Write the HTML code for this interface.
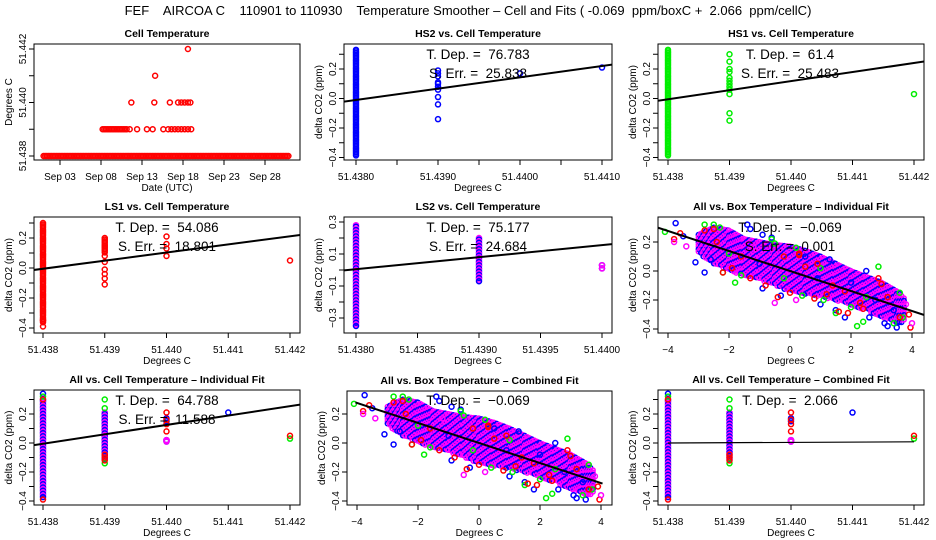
<!DOCTYPE html>
<html><head><meta charset="utf-8">
<style>
html,body{margin:0;padding:0;background:#fff;}
svg{display:block;font-family:"Liberation Sans",Arial,sans-serif;}
svg text{white-space:pre;}
</style></head>
<body>
<svg id="c" width="936" height="540" viewBox="0 0 936 540">
<text x="468" y="15" text-anchor="middle" font-size="13">FEF    AIRCOA C    110901 to 110930    Temperature Smoother – Cell and Fits ( -0.069  ppm/boxC +  2.066  ppm/cellC)</text>
</svg>
<script>
// ---------- data ----------
const tempRowLevels = [51.438, 51.439];
const tempRowStart = [1.0, 8.2];
const tempRowEnd = [30.9, 11.2];
const tempDays = [11.5,12.4,13.6,14.3,15.6,16.2,16.6,17.0,17.4,17.8,18.2,18.6,19.0, 11.7,14.5,16.4,17.4,17.8,18.2,18.6,18.9, 14.6, 18.6];
const tempVals = [51.439,51.439,51.439,51.439,51.439,51.439,51.439,51.439,51.439,51.439,51.439,51.439,51.439, 51.440,51.440,51.440,51.440,51.440,51.440,51.440,51.440, 51.441, 51.442];
const dayTicks = [3,8,13,18,23,28];
const dayLabels = ["Sep 03","Sep 08","Sep 13","Sep 18","Sep 23","Sep 28"];

const hs2StripX=[51.438], hs2StripLo=[-0.39], hs2StripHi=[0.33];
const hs2PtsX=[51.439,51.439,51.439,51.439,51.439,51.439,51.439,51.439,51.439,51.439,51.440,51.441];
const hs2PtsY=[0.19,0.17,0.15,0.11,0.10,0.08,0.06,0.01,-0.04,-0.14,0.17,0.21];
const hs2Fit=[-0.01, 76.783];
const hs1StripX=[51.438], hs1StripLo=[-0.39], hs1StripHi=[0.33];
const hs1PtsX=[51.439,51.439,51.439,51.439,51.439,51.439,51.439,51.439,51.439,51.439,51.439,51.439,51.442];
const hs1PtsY=[0.30,0.25,0.20,0.18,0.14,0.12,0.10,0.08,0.06,0.03,-0.10,-0.15,0.03];
const hs1Fit=[-0.005, 61.4];
const ls1StripX=[51.438,51.439], ls1StripLo=[-0.37,0.10], ls1StripHi=[0.30,0.20];
const ls1PtsX=[51.438,51.438,51.439,51.439,51.439,51.439,51.439,51.439,51.440,51.440,51.440,51.440,51.442];
const ls1PtsY=[-0.39,-0.35,0.08,0.04,-0.01,-0.04,-0.07,-0.11,0.21,0.16,0.13,0.08,0.05];
const ls1Fit=[-0.005, 54.086];
const ls2StripX=[51.438,51.439], ls2StripLo=[-0.35,-0.07], ls2StripHi=[0.28,0.20];
const ls2PtsX=[51.440,51.440];
const ls2PtsY=[0.03,0.01];
const ls2Fit=[0.005, 75.177];
const allStripX=[51.438,51.439], allStripLo=[-0.38,-0.12], allStripHi=[0.30,0.21];
const allBlueX=[51.438,51.440,51.440,51.441], allBlueY=[0.34,0.17,0.15,0.21];
const allGreenX=[51.438,51.439,51.439,51.439,51.442], allGreenY=[0.32,0.30,0.24,-0.14,0.03];
const allRedX=[51.438,51.438,51.439,51.439,51.439,51.440,51.440,51.440,51.440,51.442], allRedY=[0.30,-0.39,-0.08,-0.10,-0.12,0.21,0.16,0.13,0.08,0.05];
const allMagX=[51.440,51.440], allMagY=[0.02,0.01];
const allFit=[-0.005, 64.788];
const combFit=[0.0, 2.066];
const bandX=[-3.0,-2.5,-2.0,-1.5,-1.0,-0.5,0,0.5,1.0,1.5,2.0,2.5,3.0,3.5,3.8];
const bandHi=[0.25,0.30,0.28,0.22,0.20,0.18,0.17,0.14,0.10,0.05,0.00,-0.04,-0.08,-0.14,-0.20];
const bandLo=[0.12,0.05,0.00,-0.03,-0.06,-0.10,-0.14,-0.16,-0.18,-0.20,-0.24,-0.27,-0.32,-0.36,-0.35];
const boxBlueX=[-3.75,-3.5,-3.1,-2.8,-1.4,-1.3,-0.9,-0.6,-0.9,-0.3,0.5,1.3,1.0,1.5,1.8,2.5,2.6,3.1,3.2,3.5,3.4,2.0,-2.6,-1.0,0.9,2.8];
const boxBlueY=[0.33,0.24,0.06,-0.01,0.32,0.29,0.25,0.23,-0.12,-0.17,0.10,0.08,-0.23,-0.27,-0.32,0.00,-0.32,-0.36,-0.38,-0.39,-0.27,-0.08,0.08,0.05,-0.05,-0.2];
const boxGreenX=[-4.1,-2.8,-2.5,-2.3,-1.8,-1.6,-0.6,-0.5,0.4,1.1,1.5,2.2,2.4,2.9,3.6,3.7,3.4,2.0,0.2,-2.2,-2.0,-0.2,1.0,2.5];
const boxGreenY=[0.27,0.32,0.32,0.30,-0.08,-0.03,0.22,0.19,-0.17,-0.20,-0.29,-0.38,-0.35,0.03,-0.15,-0.32,-0.36,-0.25,0.16,-0.01,0.12,-0.05,0.02,-0.18];
const boxRedX=[-3.8,-3.6,-2.8,-2.5,-2.2,-1.9,-1.3,-0.4,0.0,0.3,0.8,1.2,1.6,1.9,2.4,2.9,3.0,3.6,3.9,3.95,0.5,-0.8,1.8,-2.4,-1.6,-0.2,0.3,0.9,1.4,2.3,3.2];
const boxRedY=[0.22,0.26,0.28,0.29,-0.01,0.02,-0.05,-0.18,-0.15,0.11,-0.19,-0.16,-0.28,-0.29,-0.26,-0.05,-0.09,-0.32,-0.30,-0.39,0.03,-0.10,-0.14,0.2,0.1,0.1,0.12,0.05,-0.1,-0.22,-0.18];
const boxMagX=[-3.8,-3.4,-1.2,-0.5,0.2,3.8,4.0];
const boxMagY=[0.20,0.17,0.17,-0.22,-0.20,-0.23,-0.36];
const boxFit=[0.0, -0.069];

// ---------- drawing ----------
const svg=document.getElementById('c');
const NS='http://www.w3.org/2000/svg';
const BLUE='#0000ff',GREEN='#00ee00',RED='#ff0000',MAG='#ff00ff';
function el(tag,attrs,parent){const e=document.createElementNS(NS,tag);for(const k in attrs)e.setAttribute(k,attrs[k]);(parent||svg).appendChild(e);return e;}
function lin(v0,p0,v1,p1){return v=>p0+(v-v0)*(p1-p0)/(v1-v0);}

function panel(o){
  const g=el('g',{});
  
  
  const b=o.box;
  const fr=el('rect',{x:b.l,y:b.t,width:b.r-b.l,height:b.b-b.t,fill:'none',stroke:'#000','stroke-width':1},g);
  
  
  const t=el('text',{x:(b.l+b.r)/2,y:b.t-7,'text-anchor':'middle','font-size':10.5,'font-weight':'bold'},g);
  t.textContent=o.title;
  
  
  o.xticks.forEach((v,i)=>{
    const x=o.xs(v);
    const tk=el('line',{x1:x,x2:x,y1:b.b,y2:b.b+5,stroke:'#000'},g);
    
    
    if(o.xlabels[i]){
      const lt=el('text',{x:x,y:b.b+20,'text-anchor':'middle','font-size':10},g);
      lt.textContent=o.xlabels[i];
      
      
    }
  });
  const xt=el('text',{x:(b.l+b.r)/2,y:b.b+31,'text-anchor':'middle','font-size':10},g);
  xt.textContent=o.xtitle;
  
  
  o.yticks.forEach((v,i)=>{
    const y=o.ys(v);
    const tk=el('line',{x1:b.l-5,x2:b.l,y1:y,y2:y,stroke:'#000'},g);
    
    
    if(o.ylabels[i]){
      const lt=el('text',{x:0,y:0,'text-anchor':'middle','font-size':10,transform:`translate(${b.l-8},${y}) rotate(-90)`},g);
      lt.textContent=o.ylabels[i];
      
      
    }
  });
  const yt=el('text',{x:0,y:0,'text-anchor':'middle','font-size':10,transform:`translate(${b.l-22},${(b.t+b.b)/2}) rotate(-90)`},g);
  yt.textContent=o.ytitle;
  
  
  const cp=el('clipPath',{id:'cp'+o.name},g);
  el('rect',{x:b.l,y:b.t,width:b.r-b.l,height:b.b-b.t},cp);
  const d=el('g',{'clip-path':`url(#cp${o.name})`},g);
  
  
  return {g,d};
}
function pt(d,x,y,col,r){
  const c=el('circle',{cx:x,cy:y,r:r||2.5,fill:'none',stroke:col,'stroke-width':1.5},d);
  
  
  return c;
}
function pts(d,o,X,Y,col){X.forEach((v,i)=>pt(d,o.xs(v),o.ys(Y[i]),col));}
function strip(d,o,X,Lo,Hi,cols){
  X.forEach((v,i)=>{
    const x=o.xs(v);let y0=o.ys(Hi[i]),y1=o.ys(Lo[i]);
    let k=0;
    for(let y=y0;y<=y1+0.01;y+=1.6){pt(d,x,y,cols[k%cols.length]);k++;}
  });
}
function fitLine(d,o,fit,x0ref,w){
  const xa=o.xdom[0],xb=o.xdom[1];
  const f=x=>fit[0]+fit[1]*(x-x0ref);
  const l=el('line',{x1:o.xs(xa),y1:o.ys(f(xa)),x2:o.xs(xb),y2:o.ys(f(xb)),stroke:'#000','stroke-width':w||2},d);
  
  
}
function ann(g,x,y,s){
  const t=el('text',{x:x,y:y,'text-anchor':'middle','font-size':13.5},g);
  t.textContent=s;
  
  
}
function cloud(d,o){
  for(let i=0;i<bandX.length-1;i++){
    const xa=o.xs(bandX[i]),xb=o.xs(bandX[i+1]);
    for(let x=xa;x<xb;x+=2.4){
      const f=(x-xa)/(xb-xa);
      const hi=bandHi[i]+f*(bandHi[i+1]-bandHi[i]);
      const lo=bandLo[i]+f*(bandLo[i+1]-bandLo[i]);
      let k=Math.round(x/2.4);
      for(let y=o.ys(hi);y<=o.ys(lo);y+=2.4){pt(d,x,y,(k%3===0)?BLUE:MAG,2.2);k++;}
    }
  }
  pts(d,o,boxBlueX,boxBlueY,BLUE);
  pts(d,o,boxGreenX,boxGreenY,GREEN);
  pts(d,o,boxRedX,boxRedY,RED);
  pts(d,o,boxMagX,boxMagY,MAG);
}
const tick01=[-0.4,-0.3,-0.2,-0.1,0,0.1,0.2,0.3];
const lab01=["-0.4","","-0.2","","0.0","","0.2",""].map(s=>s.replace('-','\u2212'));
const cellT=[51.438,51.439,51.440,51.441,51.442];
const cellL=["51.438","51.439","51.440","51.441","51.442"];
const DC="Degrees C", DY="delta CO2 (ppm)";

{
  const o={name:'cell-temperature-panel',box:{l:34,r:300,t:44,b:160},title:'Cell Temperature',
    xs:lin(3,60,28,265),ys:lin(51.438,156,51.442,49),xdom:[0,32],
    xticks:dayTicks,xlabels:dayLabels,xtitle:'Date (UTC)',
    yticks:cellT,ylabels:["51.438","","51.440","","51.442"],ytitle:'Degrees C'};
  const {d}=panel(o);
  tempRowLevels.forEach((lv,i)=>{for(let x=o.xs(tempRowStart[i]);x<=o.xs(tempRowEnd[i]);x+=1.6)pt(d,x,o.ys(lv),RED);});
  pts(d,o,tempDays,tempVals,RED);
}
{
  const o={name:'hs2-panel',box:{l:344,r:612,t:44,b:160},title:'HS2 vs. Cell Temperature',
    xs:lin(51.438,356,51.441,602),ys:lin(0,98.5,0.2,69),xdom:[51.4376,51.4413],
    xticks:[51.438,51.4385,51.439,51.4395,51.440,51.4405,51.441],xlabels:["51.4380","","51.4390","","51.4400","","51.4410"],xtitle:DC,
    yticks:tick01,ylabels:lab01,ytitle:DY};
  const {g,d}=panel(o);
  strip(d,o,hs2StripX,hs2StripLo,hs2StripHi,[BLUE]);
  pts(d,o,hs2PtsX,hs2PtsY,BLUE);
  fitLine(d,o,hs2Fit,51.438);
  ann(g,478,59,'T. Dep. =  76.783');ann(g,478,78,'S. Err. =  25.838');
}
{
  const o={name:'hs1-panel',box:{l:658,r:924,t:44,b:160},title:'HS1 vs. Cell Temperature',
    xs:lin(51.438,668,51.442,914),ys:lin(0,98.5,0.2,69),xdom:[51.4378,51.4423],
    xticks:cellT,xlabels:cellL,xtitle:DC,yticks:tick01,ylabels:lab01,ytitle:DY};
  const {g,d}=panel(o);
  strip(d,o,hs1StripX,hs1StripLo,hs1StripHi,[GREEN]);
  pts(d,o,hs1PtsX,hs1PtsY,GREEN);
  fitLine(d,o,hs1Fit,51.438);
  ann(g,790,59,'T. Dep. =  61.4');ann(g,790,78,'S. Err. =  25.483');
}
{
  const o={name:'ls1-panel',box:{l:34,r:300,t:217,b:333},title:'LS1 vs. Cell Temperature',
    xs:lin(51.438,43,51.442,290),ys:lin(0,268,0.2,238),xdom:[51.4378,51.4423],
    xticks:cellT,xlabels:cellL,xtitle:DC,yticks:tick01,ylabels:lab01,ytitle:DY};
  const {g,d}=panel(o);
  strip(d,o,ls1StripX,ls1StripLo,ls1StripHi,[RED]);
  pts(d,o,ls1PtsX,ls1PtsY,RED);
  fitLine(d,o,ls1Fit,51.438);
  ann(g,167,232,'T. Dep. =  54.086');ann(g,167,251,'S. Err. =  18.801');
}
{
  const o={name:'ls2-panel',box:{l:344,r:612,t:217,b:333},title:'LS2 vs. Cell Temperature',
    xs:lin(51.438,356,51.440,602),ys:lin(0,270,0.3,222),xdom:[51.4379,51.4403],
    xticks:[51.438,51.4385,51.439,51.4395,51.440],xlabels:["51.4380","51.4385","51.4390","51.4395","51.4400"],xtitle:DC,
    yticks:[-0.3,-0.2,-0.1,0,0.1,0.2,0.3],ylabels:["\u22120.3","","\u22120.1","","0.1","","0.3"],ytitle:DY};
  const {g,d}=panel(o);
  strip(d,o,ls2StripX,ls2StripLo,ls2StripHi,[MAG,BLUE]);
  pts(d,o,ls2PtsX,ls2PtsY,BLUE);pts(d,o,ls2PtsX,ls2PtsY,MAG);
  fitLine(d,o,ls2Fit,51.438);
  ann(g,478,232,'T. Dep. =  75.177');ann(g,478,251,'S. Err. =  24.684');
}
{
  const o={name:'box-individual-panel',box:{l:658,r:924,t:217,b:333},title:'All vs. Box Temperature \u2013 Individual Fit',
    xs:lin(0,790,4,912),ys:lin(0,271,0.2,242),xdom:[-4.5,4.5],
    xticks:[-4,-2,0,2,4],xlabels:["\u22124","\u22122","0","2","4"],xtitle:DC,
    yticks:[-0.4,-0.2,0,0.2],ylabels:["\u22120.4","\u22120.2","0.0","0.2"],ytitle:DY};
  const {g,d}=panel(o);
  cloud(d,o);
  fitLine(d,o,boxFit,0);
  ann(g,790,232,'T. Dep. =  \u22120.069');ann(g,790,251,'S. Err. =  0.001');
}
{
  const o={name:'cell-individual-panel',box:{l:34,r:300,t:390,b:505},title:'All vs. Cell Temperature \u2013 Individual Fit',
    xs:lin(51.438,43,51.442,290),ys:lin(0,443,0.2,414),xdom:[51.4378,51.4423],
    xticks:cellT,xlabels:cellL,xtitle:DC,yticks:tick01,ylabels:lab01,ytitle:DY};
  const {g,d}=panel(o);
  strip(d,o,allStripX,allStripLo,allStripHi,[MAG,BLUE]);
  pts(d,o,allMagX,allMagY,BLUE);pts(d,o,allMagX,allMagY,MAG);
  pts(d,o,allBlueX,allBlueY,BLUE);pts(d,o,allGreenX,allGreenY,GREEN);pts(d,o,allRedX,allRedY,RED);
  fitLine(d,o,allFit,51.438);
  ann(g,167,405,'T. Dep. =  64.788');ann(g,167,424,'S. Err. =  11.588');
}
{
  const o={name:'box-combined-panel',box:{l:347,r:612,t:391,b:505},title:'All vs. Box Temperature \u2013 Combined Fit',
    xs:lin(-4,357,4,601),ys:lin(0,443,0.2,414),xdom:[-4.05,4.05],
    xticks:[-4,-2,0,2,4],xlabels:["\u22124","\u22122","0","2","4"],xtitle:DC,
    yticks:[-0.4,-0.2,0,0.2],ylabels:["\u22120.4","\u22120.2","0.0","0.2"],ytitle:DY};
  const {g,d}=panel(o);
  cloud(d,o);
  fitLine(d,o,boxFit,0);
  ann(g,478,405,'T. Dep. =  \u22120.069');
}
{
  const o={name:'cell-combined-panel',box:{l:658,r:924,t:390,b:505},title:'All vs. Cell Temperature \u2013 Combined Fit',
    xs:lin(51.438,668,51.442,914),ys:lin(0,443,0.2,414),xdom:[51.438,51.442],
    xticks:cellT,xlabels:cellL,xtitle:DC,yticks:tick01,ylabels:lab01,ytitle:DY};
  const {g,d}=panel(o);
  strip(d,o,allStripX,allStripLo,allStripHi,[MAG,BLUE]);
  pts(d,o,allMagX,allMagY,BLUE);pts(d,o,allMagX,allMagY,MAG);
  pts(d,o,allBlueX,allBlueY,BLUE);pts(d,o,allGreenX,allGreenY,GREEN);pts(d,o,allRedX,allRedY,RED);
  fitLine(d,o,combFit,51.438,1.2);
  ann(g,790,405,'T. Dep. =  2.066');
}
</script>
</body></html>
